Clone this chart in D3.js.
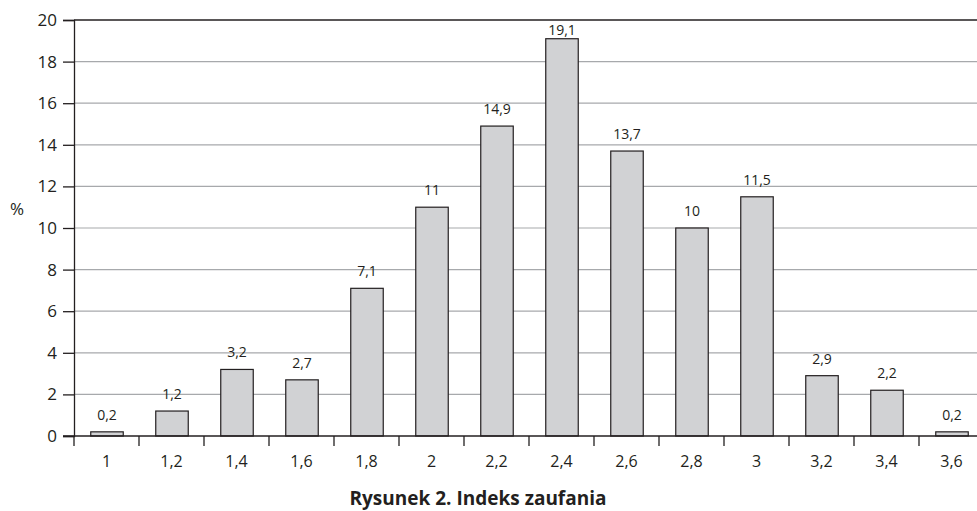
<!DOCTYPE html>
<html>
<head>
<meta charset="utf-8">
<script src="https://cdn.jsdelivr.net/npm/d3@7"></script>
<style>
  body { margin: 0; background: #fff; }
  text { font-family: "Open Sans", "Noto Sans", sans-serif; fill: #231f20; }
</style>
</head>
<body>
<svg id="plot1" width="977" height="511"></svg>
<script>
// data
var categories = ["1", "1,2", "1,4", "1,6", "1,8", "2", "2,2", "2,4", "2,6", "2,8", "3", "3,2", "3,4", "3,6"];
var values = [0.2, 1.2, 3.2, 2.7, 7.1, 11, 14.9, 19.1, 13.7, 10, 11.5, 2.9, 2.2, 0.2];
var yTicks = [0, 2, 4, 6, 8, 10, 12, 14, 16, 18, 20];
var title = "Rysunek 2. Indeks zaufania";

var svg = d3.select("#plot1"),
    margin = {top: 20, left: 74},
    width = 910,   // plot runs past the right edge of the picture, as in the original
    height = 416;

var x = d3.scaleBand().domain(categories).range([0, width]).paddingInner(0.5).paddingOuter(0.25),
    y = d3.scaleLinear().domain([0, 20]).range([height, 0]);

var g = svg.append("g")
    .attr("transform", "translate(" + margin.left + "," + margin.top + ")");

// horizontal gridlines
g.selectAll(".grid")
    .data(yTicks.filter(function(d){ return d > 0; }))
    .enter()
    .append("line")
    .attr("x1", 0)
    .attr("x2", width)
    .attr("y1", function(d){ return y(d); })
    .attr("y2", function(d){ return y(d); })
    .attr("stroke", function(d){ return d == 20 ? "#231f20" : "#a7a9ac"; })
    .attr("stroke-width", function(d){ return d == 20 ? 1.3 : 1.2; });

// bars
var step = width / categories.length;
g.selectAll(".bar")
    .data(values)
    .enter()
    .append("rect")
    .attr("x", function(d, i){ return x(categories[i]) + 0.5; })
    .attr("y", function(d){ return y(d); })
    .attr("width", x.bandwidth())
    .attr("height", function(d){ return height - y(d); })
    .attr("fill", "#d1d2d4")
    .attr("stroke", "#231f20")
    .attr("stroke-width", 1.2);

// value labels, kept under the top line
g.selectAll(".valLabel")
    .data(values)
    .enter()
    .append("text")
    .attr("x", function(d, i){ return x(categories[i]) + x.bandwidth() / 2 + 0.5; })
    .attr("y", function(d){ return Math.max(y(d) - 12, 15); })
    .attr("text-anchor", "middle")
    .attr("font-size", 14)
    .text(function(d){ return String(d).replace(".", ","); });

// y axis
var yAxis = d3.axisLeft(y).tickValues(yTicks).tickSize(11).tickPadding(6);
var ya = g.append("g").call(yAxis)
    .attr("font-size", 17)
    .attr("font-family", null);
ya.select(".domain").attr("stroke", "#231f20").attr("stroke-width", 1.3);
ya.selectAll(".tick line").attr("stroke", "#231f20").attr("stroke-width", 1.3);
ya.selectAll(".tick text").attr("fill", "#231f20");

// x axis: baseline with ticks at band boundaries
g.append("line")
    .attr("x1", -11).attr("x2", width)
    .attr("y1", height).attr("y2", height)
    .attr("stroke", "#231f20").attr("stroke-width", 1.3);

g.selectAll(".xTick")
    .data(categories)
    .enter()
    .append("line")
    .attr("x1", function(d, i){ return i * step; })
    .attr("x2", function(d, i){ return i * step; })
    .attr("y1", height)
    .attr("y2", height + 10)
    .attr("stroke", "#231f20").attr("stroke-width", 1.3);

g.selectAll(".xLabel")
    .data(categories)
    .enter()
    .append("text")
    .attr("x", function(d){ return x(d) + x.bandwidth() / 2; })
    .attr("y", height + 31)
    .attr("text-anchor", "middle")
    .attr("font-size", 16)
    .text(function(d){ return d; });

// y title
svg.append("text")
    .attr("x", 17)
    .attr("y", 215)
    .attr("text-anchor", "middle")
    .attr("font-size", 17)
    .text("%");

// figure caption
svg.append("text")
    .attr("x", 478)
    .attr("y", 505)
    .attr("text-anchor", "middle")
    .attr("font-size", 19)
    .attr("font-weight", "bold")
    .text(title);
</script>
</body>
</html>
